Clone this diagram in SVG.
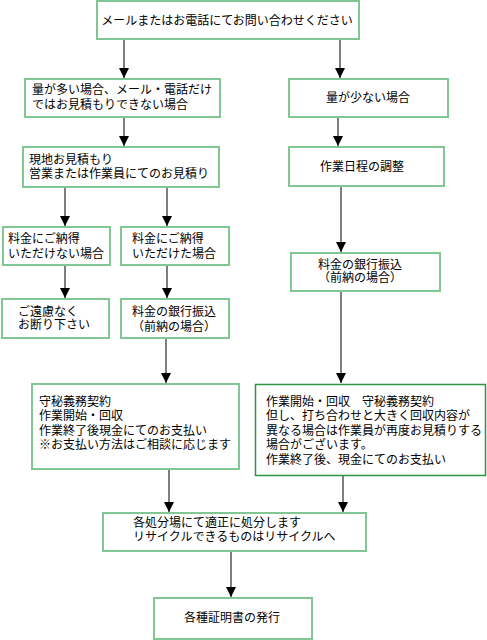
<svg xmlns="http://www.w3.org/2000/svg" width="487" height="640" viewBox="0 0 487 640">
<defs>
<marker id="ah" markerUnits="userSpaceOnUse" markerWidth="10" markerHeight="10" refX="10" refY="5" orient="auto">
<path d="M0,0 L10,5 L0,10 z" fill="#000"/>
</marker>
<style>
.b{fill:#fff;stroke:#80c794;stroke-width:2}
.d{fill:#fff;stroke:#2e9640;stroke-width:1.5}
.t{font-family:"Noto Sans CJK JP","Noto Sans",sans-serif;font-size:12px;fill:#000}
.c{text-anchor:middle}
.e{stroke:#808080;stroke-width:2;fill:none;marker-end:url(#ah)}
</style>
</defs>
<rect width="487" height="640" fill="#fff"/>
<g id="connectors">
<line class="e" x1="124" y1="39" x2="124" y2="78"/>
<line class="e" x1="340" y1="39" x2="340" y2="78"/>
<line class="e" x1="124" y1="117" x2="124" y2="146"/>
<line class="e" x1="338" y1="117" x2="338" y2="146"/>
<line class="e" x1="65" y1="187" x2="65" y2="226"/>
<line class="e" x1="167" y1="187" x2="167" y2="226"/>
<line class="e" x1="65" y1="265" x2="65" y2="298"/>
<line class="e" x1="167" y1="265" x2="167" y2="298"/>
<line class="e" x1="341" y1="186" x2="341" y2="252"/>
<line class="e" x1="166" y1="338" x2="166" y2="383"/>
<line class="e" x1="341" y1="291" x2="341" y2="383"/>
<line class="e" x1="169" y1="469" x2="169" y2="512"/>
<line class="e" x1="343" y1="475" x2="343" y2="512"/>
<line class="e" x1="231" y1="551" x2="231" y2="597"/>
</g>
<g id="n1">
<rect class="b" x="97" y="1" width="262" height="38"/>
<text class="t c" x="227" y="25">メールまたはお電話にてお問い合わせください</text>
</g>
<g id="n2">
<rect class="b" x="25" y="79" width="195" height="38"/>
<text class="t" x="32" y="94">量が多い場合、メール・電話だけ</text>
<text class="t" x="32" y="109">ではお見積もりできない場合</text>
</g>
<g id="n3">
<rect class="b" x="289" y="79" width="159" height="38"/>
<text class="t c" x="368" y="102">量が少ない場合</text>
</g>
<g id="n4">
<rect class="b" x="23" y="147" width="196" height="40"/>
<text class="t" x="29" y="164">現地お見積もり</text>
<text class="t" x="29" y="178">営業または作業員にてのお見積り</text>
</g>
<g id="n5">
<rect class="b" x="289" y="147" width="155" height="39"/>
<text class="t c" x="362" y="171">作業日程の調整</text>
</g>
<g id="n6">
<rect class="b" x="3" y="227" width="107" height="38"/>
<text class="t" x="8" y="243">料金にご納得</text>
<text class="t" x="8" y="258">いただけない場合</text>
</g>
<g id="n7">
<rect class="b" x="121" y="227" width="108" height="38"/>
<text class="t" x="132" y="243">料金にご納得</text>
<text class="t" x="132" y="258">いただけた場合</text>
</g>
<g id="n8">
<rect class="b" x="2" y="299" width="107" height="39"/>
<text class="t" x="18" y="316">ご遠慮なく</text>
<text class="t" x="18" y="329">お断り下さい</text>
</g>
<g id="n9">
<rect class="b" x="121" y="299" width="108" height="39"/>
<text class="t c" x="174" y="316">料金の銀行振込</text>
<text class="t c" x="174" y="331">（前納の場合）</text>
</g>
<g id="n10">
<rect class="b" x="291" y="253" width="149" height="38"/>
<text class="t c" x="360" y="269">料金の銀行振込</text>
<text class="t c" x="360" y="282">（前納の場合）</text>
</g>
<g id="n11">
<rect class="b" x="32" y="384" width="207" height="85"/>
<text class="t" x="39" y="406">守秘義務契約</text>
<text class="t" x="39" y="420">作業開始・回収</text>
<text class="t" x="39" y="435">作業終了後現金にてのお支払い</text>
<text class="t" x="39" y="449">※お支払い方法はご相談に応じます</text>
</g>
<g id="n12">
<rect class="d" x="255.5" y="384.5" width="230" height="91"/>
<text class="t" x="266" y="406">作業開始・回収　守秘義務契約</text>
<text class="t" x="266" y="420">但し、打ち合わせと大きく回収内容が</text>
<text class="t" x="266" y="435">異なる場合は作業員が再度お見積りする</text>
<text class="t" x="266" y="449">場合がございます。</text>
<text class="t" x="266" y="464">作業終了後、現金にてのお支払い</text>
</g>
<g id="n13">
<rect class="b" x="103" y="513" width="263" height="38"/>
<text class="t" x="133" y="527">各処分場にて適正に処分します</text>
<text class="t" x="133" y="541">リサイクルできるものはリサイクルへ</text>
</g>
<g id="n14">
<rect class="b" x="154" y="598" width="158" height="41"/>
<text class="t c" x="232" y="622">各種証明書の発行</text>
</g>
</svg>
